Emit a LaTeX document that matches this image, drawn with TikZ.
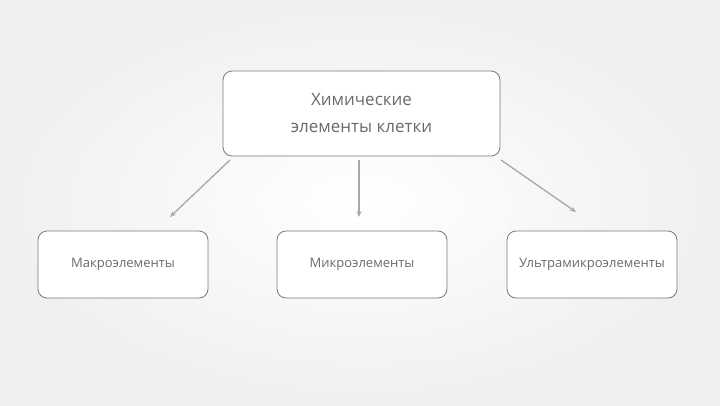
\documentclass[tikz,border=0pt]{standalone}
\usepackage{fontspec}
\setmainfont{Open Sans}
\usetikzlibrary{arrows.meta}
\definecolor{boxline}{HTML}{7A7A7A}
\definecolor{arrowc}{HTML}{A8A8A8}
\definecolor{txt}{HTML}{6A6A6A}
\begin{document}
\begin{tikzpicture}[x=1pt,y=-1pt,
  box/.style={draw=boxline,line width=0.8pt,fill=white,rounded corners=9pt,inner sep=0pt,
    text=txt,align=center},
  conn/.style={draw=arrowc,line width=1.3pt,-{Stealth[length=6pt,width=5pt]}}]
\shade[inner color=white,outer color=black!6] (0,0) rectangle (720,405);
\useasboundingbox (0,0) rectangle (720,405);
\node[box,minimum width=277pt,minimum height=85pt,font=\fontsize{17}{27}\selectfont] (top) at (361.5,113.5) {\raisebox{-3pt}{\begin{tabular}{@{}c@{}}Химические\\элементы клетки\end{tabular}}};
\node[box,minimum width=170pt,minimum height=67pt,font=\fontsize{13}{16}\selectfont] (macro) at (123,264.5) {Макроэлементы};
\node[box,minimum width=170pt,minimum height=67pt,font=\fontsize{13}{16}\selectfont] (micro) at (362,264.5) {Микроэлементы};
\node[box,minimum width=170pt,minimum height=67pt,font=\fontsize{13}{16}\selectfont] (ultra) at (592,264.5) {Ультрамикроэлементы};
\coordinate (a1s) at (230,160);
\coordinate (a1e) at (170,217);
\coordinate (a2s) at (359,160);
\coordinate (a2e) at (359,217);
\coordinate (a3s) at (501,160);
\coordinate (a3e) at (576,212);
\draw[conn] (a1s) -- (a1e);
\draw[conn] (a2s) -- (a2e);
\draw[conn] (a3s) -- (a3e);
\end{tikzpicture}
\end{document}
